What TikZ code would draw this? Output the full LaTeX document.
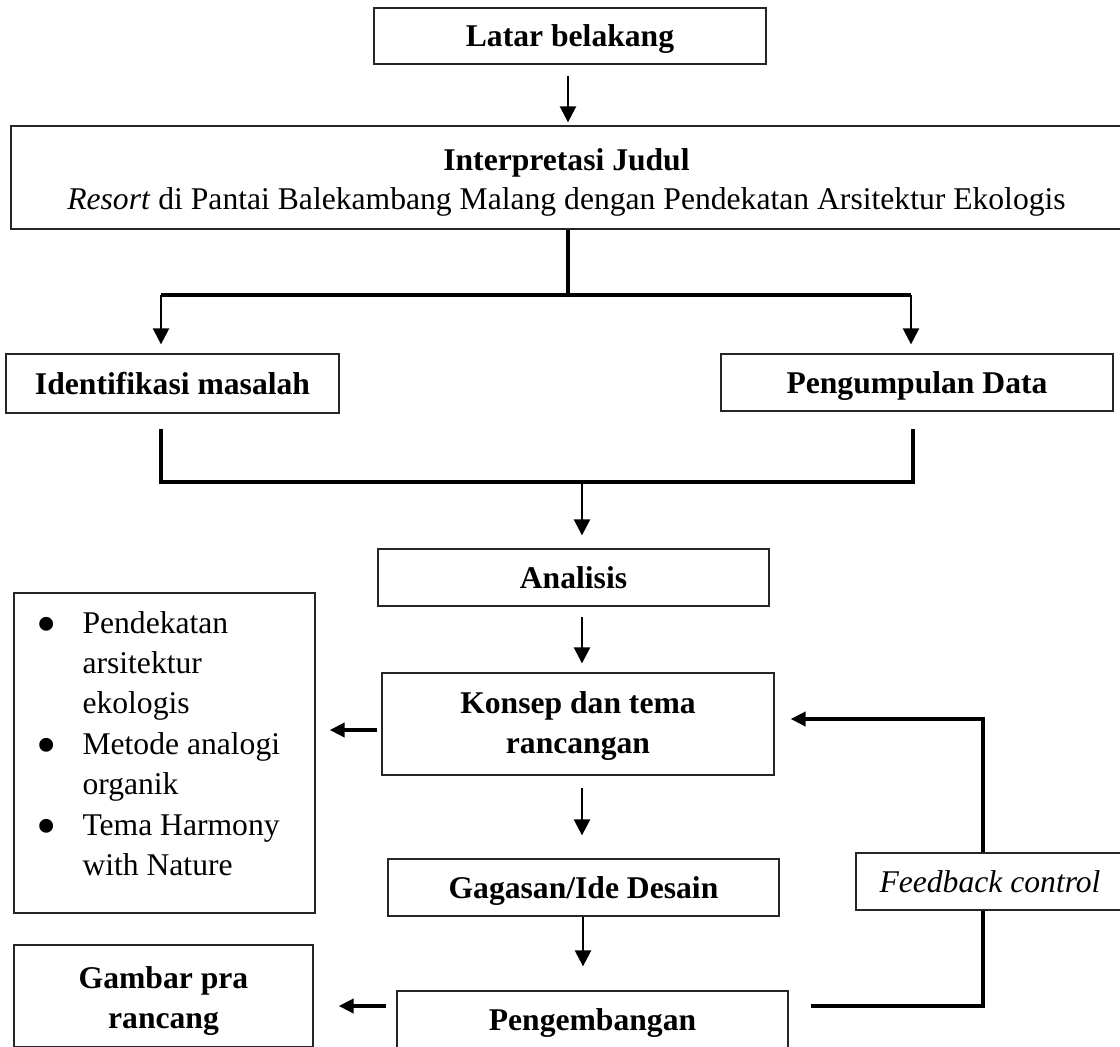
\documentclass[tikz,border=0pt]{standalone}
\usepackage{fontspec}
\setmainfont{Liberation Serif}
\usetikzlibrary{arrows.meta}
\newcommand{\bigbul}{\raisebox{-6pt}{\fontsize{33}{23}\selectfont\textbullet}}
\begin{document}
\begin{tikzpicture}[x=0.02cm,y=-0.02cm,
  box/.style={draw=black!85, line width=0.75pt, fill=white, inner sep=0pt, font=\fontsize{18}{22}\selectfont},
  bbox/.style={box, font=\fontsize{18}{22}\selectfont\bfseries},
  one/.style={bbox, text height=14pt, text depth=1.5pt},
  arr/.style={line width=1.4pt, -{Triangle[width=0.32cm,length=0.32cm]}},
  bar/.style={line width=1.9pt},
  tbar/.style={line width=2.3pt},
  tarr/.style={line width=2.3pt, -{Triangle[width=0.28cm,length=0.3cm]}},
]
\path[use as bounding box, clip] (0,0) rectangle (1120,1046);

% boxes
\node[one, minimum width=7.84cm, minimum height=1.12cm] (latar) at (570,36) {Latar belakang};
\node[box, align=center, minimum width=22.22cm, minimum height=2.06cm] (interp) at (566.5,177.5)
  {\rule{0pt}{18pt}{\bfseries Interpretasi Judul}\\\textit{Resort} di Pantai Balekambang Malang dengan Pendekatan Arsitektur Ekologis};
\node[one, minimum width=6.66cm, minimum height=1.18cm] (ident) at (172.5,383.5) {Identifikasi masalah};
\node[one, minimum width=7.84cm, minimum height=1.14cm] (pengum) at (917,382.5) {Pengumpulan Data};
\node[one, minimum width=7.82cm, minimum height=1.14cm] (analisis) at (573.5,577.5) {Analisis};
\node[bbox, align=center, font=\fontsize{18}{22.8}\selectfont\bfseries, minimum width=7.84cm, minimum height=2.04cm] (konsep) at (578,724) {\rule{0pt}{15pt}Konsep dan tema\\rancangan};
\node[box, font=\fontsize{18}{23}\selectfont, minimum width=6.02cm, minimum height=6.4cm, inner xsep=0.45cm, text height=0.5cm, text depth=5.3cm] (lst) at (164.5,753)
  {\begin{tabular}[t]{@{}p{0.92cm}@{}p{4.2cm}@{}}
   \bigbul & Pendekatan\\
           & arsitektur\\
           & ekologis\\
   \bigbul & Metode analogi\\
           & organik\\
   \bigbul & Tema Harmony\\
           & with Nature
   \end{tabular}};
\node[one, minimum width=7.82cm, minimum height=1.14cm] (gagasan) at (583.5,887.5) {Gagasan/Ide Desain};
\node[box, font=\fontsize{18}{22}\selectfont\itshape, text height=14pt, text depth=1.5pt, minimum width=5.36cm, minimum height=1.14cm] (fb) at (990,881.5) {Feedback control};
\node[one, minimum width=7.82cm, minimum height=1.14cm] (peng) at (592.5,1019.5) {Pengembangan};
\node[bbox, align=center, font=\fontsize{18}{22.8}\selectfont\bfseries, minimum width=5.98cm, minimum height=2.04cm] (gambar) at (163.5,996) {\rule{0pt}{18pt}Gambar pra\\rancang};

% junction coordinates
\coordinate (t1) at (568,295);
\coordinate (tl) at (161,295);
\coordinate (tr) at (911,295);
\coordinate (bl) at (161,482);
\coordinate (br) at (913,482);
\coordinate (bm) at (582,482);
\coordinate (fb1) at (983,1006);
\coordinate (fb2) at (983,719);

% connectors
\draw[arr, shorten <=0.22cm, shorten >=0.06cm] (latar.south -| t1) -- (interp.north -| t1);
\draw[bar] (interp.south -| t1) -- (t1);
\draw[bar] (tl) -- (tr);
\draw[arr, shorten >=0.18cm] (tl) -- (ident.north -| tl);
\draw[arr, shorten >=0.18cm] (tr) -- (pengum.north -| tr);
\draw[bar, shorten <=0.3cm, shorten >=0.34cm] (ident.south -| bl) -- (bl) -- (br) -- (pengum.south -| br);
\draw[arr, shorten >=0.26cm] (bm) -- (analisis.north -| bm);
\draw[arr, shorten <=0.2cm, shorten >=0.18cm] (analisis.south -| bm) -- (konsep.north -| bm);
\draw[arr, shorten <=0.24cm, shorten >=0.46cm] (konsep.south -| bm) -- (gagasan.north -| bm);
\draw[arr, shorten >=0.48cm] ([xshift=-0.01cm]gagasan.south) -- ([xshift=-0.01cm]gagasan.south |- peng.north);
\draw[tarr, shorten <=0.08cm, shorten >=0.28cm] ([yshift=-0.12cm]konsep.west) -- ([yshift=-0.12cm]konsep.west -| lst.east);
\draw[tarr, shorten <=0.2cm, shorten >=0.5cm] ([yshift=0.27cm]peng.west) -- ([yshift=0.27cm]peng.west -| gambar.east);
\draw[tbar, shorten <=0.44cm] (peng.east |- fb1) -- (fb1) -- (fb.south -| fb1);
\draw[tarr, shorten >=0.32cm] (fb.north -| fb1) -- (fb2) -- (fb2 -| konsep.east);
\end{tikzpicture}
\end{document}
